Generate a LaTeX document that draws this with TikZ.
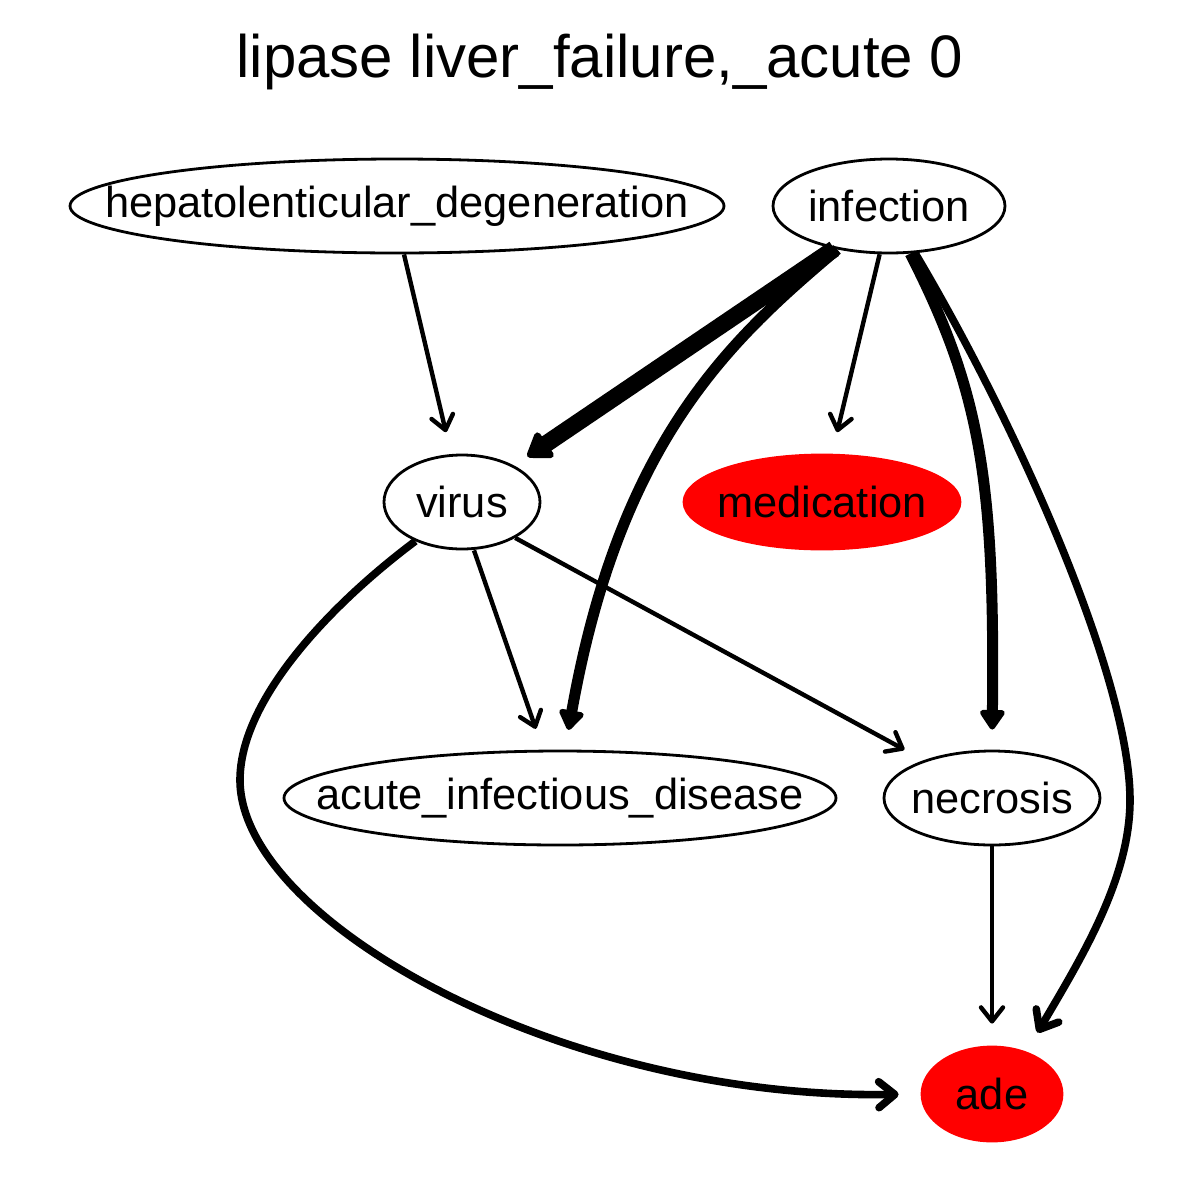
\documentclass[tikz,border=0pt]{standalone}
\usepackage{fontspec}
\setmainfont{Liberation Sans}
\usetikzlibrary{shapes.geometric,arrows.meta}
\begin{document}
\begin{tikzpicture}[x=0.5pt,y=-0.5pt,
  nd/.style={ellipse,draw,line width=1.4pt,inner sep=0pt,minimum height=47pt,font=\fontsize{21.7}{26}\selectfont},
  rednd/.style={ellipse,fill=red,draw=red,line width=1.4pt,inner sep=0pt,minimum height=47pt,font=\fontsize{21.7}{26}\selectfont},
  edge/.style={line width=2.2pt,-{Straight Barb[length=7pt,width=11pt,line cap=round,line join=round]},shorten >=11pt},
  medge/.style={line width=3.8pt,-{Straight Barb[length=8pt,width=13pt,line cap=round,line join=round]},shorten >=11pt},
  tedge/.style={line width=5.5pt,-{Triangle[round,length=11pt,width=14pt]},shorten >=10pt},
  xedge/.style={line width=8.5pt,-{Triangle[round,length=13pt,width=17pt]},shorten >=8pt}]
\useasboundingbox (0,0) rectangle (1200,1200);
\node[font=\fontsize{30}{36}\selectfont] (title) at (600,62) {lipase liver\_failure,\_acute 0};
\node[nd,minimum width=327pt] (hep) at (397,206) {\makebox[0pt]{hepatolenticular\_degeneration}};
\node[nd,minimum width=116pt] (inf) at (889,206) {\makebox[0pt]{infection}};
\node[nd,minimum width=78pt] (vir) at (462,502) {\makebox[0pt]{virus}};
\node[rednd,minimum width=138pt] (med) at (822,502) {\makebox[0pt]{medication}};
\node[nd,minimum width=276pt] (acu) at (560,798) {\makebox[0pt]{acute\_infectious\_disease}};
\node[nd,minimum width=108pt] (nec) at (992,798) {\makebox[0pt]{necrosis}};
\node[rednd,minimum width=70pt] (ade) at (992,1094) {\makebox[0pt]{ade}};

\draw[edge] ([xshift=3.5pt]hep.south) -- ([xshift=-5.5pt]vir.north);
\draw[xedge] (inf.218) -- (vir.35);
\draw[tedge] (inf.220) .. controls (730,340) and (620,440) .. ([xshift=2.5pt]acu.north);
\draw[edge] (inf.259) -- ([xshift=5pt]med.north);
\draw[tedge] (inf.294) .. controls (980,390) and (995,480) .. (nec.north);
\draw[medge] (inf.299) .. controls (1020,430) and (1130,680) .. (1130,800)
  .. controls (1130,880) and (1080,960) .. (ade.51);
\draw[edge] ([xshift=6pt]vir.south) -- ([xshift=-8.5pt]acu.north);
\draw[edge] (vir.326) -- (nec.151);
\draw[medge] (vir.220) .. controls (330,605) and (240,700) .. (240,780)
  .. controls (240,920) and (560,1100) .. (ade.west);
\draw[edge] (nec) -- (ade);
\end{tikzpicture}
\end{document}
